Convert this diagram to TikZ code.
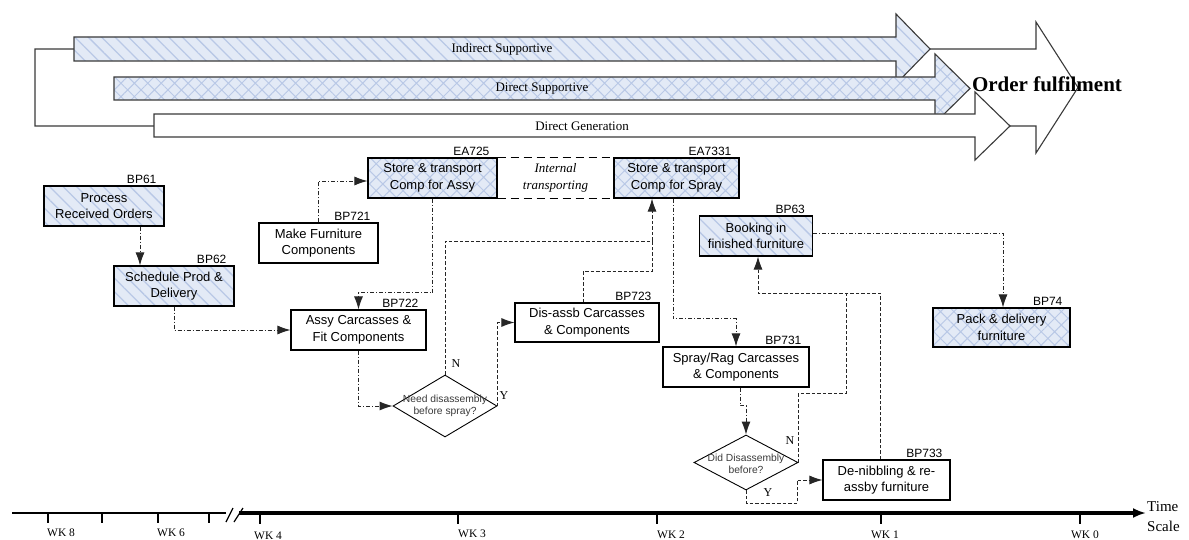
\documentclass[tikz,border=0pt]{standalone}
\usepackage{fontspec}
\setmainfont{Liberation Serif}
\setsansfont{Liberation Sans}
\usetikzlibrary{arrows.meta,patterns.meta,shapes.geometric,calc}

\definecolor{paleblue}{HTML}{E3EAF6}
\definecolor{hatchblue}{HTML}{B9C8E6}
\definecolor{edgegray}{HTML}{3A3A3A}
\definecolor{linkgray}{HTML}{262626}

\tikzset{
  lined/.style={preaction={fill=paleblue}, pattern={Lines[angle=-45,distance=9.5pt,line width=1.3pt]}, pattern color=hatchblue},
  crossed/.style={preaction={fill=paleblue}, pattern={Hatch[angle=45,distance=9.5pt,line width=1pt]}, pattern color=hatchblue},
  bigarrow/.style={draw=edgegray, line width=1.1pt, line join=miter},
  bartext/.style={font=\fontsize{13}{15}\selectfont, inner sep=0pt},
  procbox/.style={draw=black, line width=1.1pt, align=center, inner sep=0pt, minimum height=40pt, font=\sffamily\fontsize{13}{16.7}\selectfont},
  idtag/.style={font=\sffamily\fontsize{12}{12}\selectfont, inner sep=0pt, anchor=base east},
  decision/.style={draw=black, line width=0.9pt, shape=diamond, inner sep=0pt},
  dectext/.style={font=\sffamily\fontsize{10.3}{12.3}\selectfont, text=edgegray, align=center, inner sep=0pt},
  answer/.style={font=\fontsize{12}{12}\selectfont, inner sep=0pt},
  link/.style={draw=linkgray, line width=0.9pt},
  chainline/.style={link, dash pattern=on 4pt off 2pt on 1pt off 2pt},
  dashline/.style={link, dash pattern=on 3.5pt off 2pt},
  tip/.style={-{Latex[length=13pt,width=9pt]}},
  wk/.style={font=\fontsize{11.5}{12}\selectfont, inner sep=0pt},
}

\begin{document}
\begin{tikzpicture}[x=1pt, y=-1pt]
\useasboundingbox (0,0) rectangle (1189,540);

% ---- value-stream arrows ----
\draw[bigarrow, fill=white] (35,49) -- (1036,49) -- (1036,22) -- (1078,87.5) -- (1036,153) -- (1036,126) -- (35,126) -- cycle;
\draw[bigarrow, lined] (74,37) -- (896,37) -- (896,14) -- (930,49) -- (896,84) -- (896,61) -- (74,61) -- cycle;
\draw[bigarrow, crossed] (114,77) -- (935,77) -- (935,54) -- (970,88.5) -- (935,123) -- (935,100) -- (114,100) -- cycle;
\draw[bigarrow, fill=white] (154,114) -- (975,114) -- (975,92) -- (1010,126) -- (975,160) -- (975,137) -- (154,137) -- cycle;

\node[bartext] (indirect) at (502,49) {Indirect Supportive};
\node[bartext] (dirsup) at (542,88.5) {Direct Supportive};
\node[bartext] (dirgen) at (582,126) {Direct Generation};
\node[font=\bfseries\fontsize{21}{21}\selectfont, inner sep=0pt] (order) at (1047,84) {Order fulfilment};

% ---- process boxes ----
\node[procbox, lined, minimum width=120pt] (BP61) at (104,206) {Process\\Received Orders};
\node[procbox, lined, minimum width=120pt] (BP62) at (174,286) {Schedule Prod \&\\Delivery};
\node[procbox, minimum width=119pt] (BP721) at (318.5,243) {Make Furniture\\Components};
\node[procbox, crossed, minimum width=129pt] (EA725) at (432.5,178) {Store \& transport\\Comp for Assy};
\node[procbox, crossed, minimum width=125pt] (EA7331) at (676.5,178) {Store \& transport\\Comp for Spray};
\node[procbox, lined, minimum width=113pt] (BP63) at (756,236) {Booking in\\finished furniture};
\node[procbox, crossed, minimum width=137pt, minimum height=39pt] (BP74) at (1001.5,327.5) {Pack \& delivery\\furniture};
\node[procbox, minimum width=135pt] (BP722) at (358.5,330) {Assy Carcasses \&\\Fit Components};
\node[procbox, minimum width=144pt, minimum height=39pt] (BP723) at (587,322.5) {Dis-assb Carcasses\\\& Components};
\node[procbox, minimum width=146pt] (BP731) at (736,367) {Spray/Rag Carcasses\\\& Components};
\node[procbox, minimum width=127pt] (BP733) at (886.5,480) {De-nibbling \& re-\\assby furniture};

\node[idtag] (BP61-id) at ([xshift=-8pt,yshift=2pt]BP61.north east) {BP61};
\node[idtag] (BP62-id) at ([xshift=-8pt,yshift=2pt]BP62.north east) {BP62};
\node[idtag] (BP721-id) at ([xshift=-8pt,yshift=2pt]BP721.north east) {BP721};
\node[idtag] (EA725-id) at ([xshift=-8pt,yshift=2pt]EA725.north east) {EA725};
\node[idtag] (EA7331-id) at ([xshift=-8pt,yshift=2pt]EA7331.north east) {EA7331};
\node[idtag] (BP63-id) at ([xshift=-8pt,yshift=2pt]BP63.north east) {BP63};
\node[idtag] (BP74-id) at ([xshift=-8pt,yshift=2pt]BP74.north east) {BP74};
\node[idtag] (BP722-id) at ([xshift=-8pt,yshift=2pt]BP722.north east) {BP722};
\node[idtag] (BP723-id) at ([xshift=-8pt,yshift=2pt]BP723.north east) {BP723};
\node[idtag] (BP731-id) at ([xshift=-8pt,yshift=2pt]BP731.north east) {BP731};
\node[idtag] (BP733-id) at ([xshift=-8pt,yshift=2pt]BP733.north east) {BP733};

% internal transport link between the two stores
\draw[draw=black, line width=1.1pt, dash pattern=on 8pt off 5pt] (EA725.north east) -- (EA7331.north west);
\draw[draw=black, line width=1.1pt, dash pattern=on 8pt off 5pt] (EA725.south east) -- (EA7331.south west);
\node[font=\itshape\fontsize{13}{16.7}\selectfont, align=center, inner sep=0pt] (internal) at ($(EA725.east)!0.5!(EA7331.west)$) {Internal\\transporting};

% ---- decisions ----
\node[decision, minimum width=104pt, minimum height=62pt] (D1) at (445,406) {};
\node[dectext] (D1-text) at (D1) {Need disassembly\\before spray?};
\node[decision, minimum width=104pt, minimum height=55pt] (D2) at (746,462.5) {};
\node[dectext] (D2-text) at ([yshift=-1.5pt]D2.center) {Did Disassembly\\before?};

\node[answer] (D1-n) at (456,364) {N};
\node[answer] (D1-y) at (504,396) {Y};
\node[answer] (D2-n) at (790,441) {N};
\node[answer] (D2-y) at (768,493) {Y};

% ---- junction points ----
\coordinate (sprayin) at ([xshift=-24.5pt]EA7331.south);
\coordinate (j1) at (652,241);
\coordinate (j2) at (846,293);

% ---- flows ----
\draw[chainline, tip] ([xshift=36pt]BP61.south) -- ([xshift=36pt]BP61.south |- BP62.north);
\draw[chainline, tip] (BP62.south) |- (BP722.west);
\draw[chainline, tip] (BP721.north) |- ([yshift=-3pt]EA725.west);
\draw[chainline, tip] (EA725.south) -- ++(0,94) -| (BP722.north);
\draw[chainline, tip] (BP722.south) |- (D1.west);
\draw[dashline, tip] (D1.north) |- (j1) -- (sprayin);
\draw[dashline, tip] (D1.east) |- (BP723.west);
\draw[dashline] ([xshift=-4pt]BP723.north) -- ++(0,-31) -| (j1);
\draw[chainline, tip] ([xshift=-3.5pt]EA7331.south) -- ++(0,120) -| (BP731.north);
\draw[chainline, tip] ([xshift=4pt]BP731.south) -- ++(0,18) -| (D2.north);
\draw[dashline] (D2.east) -- ++(0,-69) -| (j2);
\draw[dashline, tip] ([xshift=-6.5pt]BP733.north) |- ([xshift=2pt]BP63.south |- j2) -- ([xshift=2pt]BP63.south);
\draw[dashline, tip] (D2.south) -- ++(0,13) -- ++(51,0) |- (BP733.west);
\draw[chainline, tip] ([yshift=3pt]BP63.east) -| ([xshift=1.5pt]BP74.north);

% ---- time scale ----
\draw[line width=2.5pt] (12,513) -- (226,513);
\foreach \x in {48,102,158,209} \draw[line width=1.2pt] (\x,513) -- (\x,523);
\draw[line width=1.2pt] (226,522) -- (233,508);
\draw[line width=1.2pt] (234,522) -- (243,508);
\draw[line width=4pt, -{Latex[length=13pt,width=10pt]}] (239,513) -- (1146,513);
\foreach \x in {260,458,657,881,1080} \draw[line width=1.5pt] (\x,513) -- (\x,524);

\node[wk, anchor=west] (wk8) at (47,533) {WK 8};
\node[wk, anchor=west] (wk6) at (157,533) {WK 6};
\node[wk, anchor=west] (wk4) at (254,535.5) {WK 4};
\node[wk, anchor=west] (wk3) at (458,534) {WK 3};
\node[wk, anchor=west] (wk2) at (657,534.5) {WK 2};
\node[wk] (wk1) at (885,534.5) {WK 1};
\node[wk] (wk0) at (1085,534.5) {WK 0};
\node[font=\fontsize{15}{20}\selectfont, align=left, inner sep=0pt, anchor=west] (timescale) at (1147,517) {Time\\Scale};
\end{tikzpicture}
\end{document}
